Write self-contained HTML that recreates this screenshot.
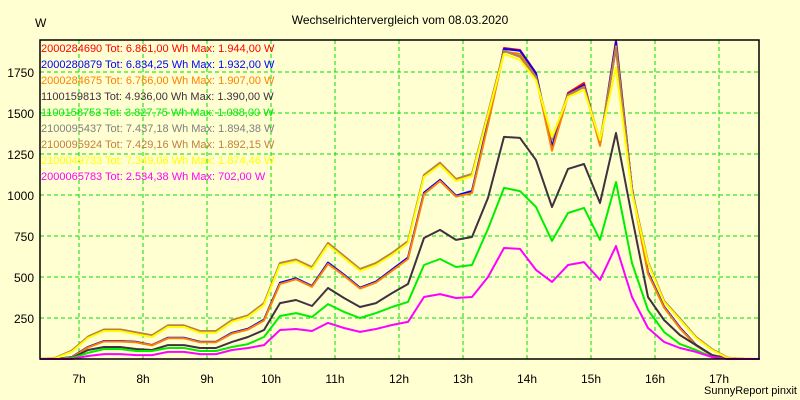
<!DOCTYPE html>
<html><head><meta charset="utf-8"><style>
body{margin:0;background:#ffffd2;}
svg{display:block;font-family:"Liberation Sans",sans-serif;}
</style></head><body>
<svg id="chart" width="800" height="400" viewBox="0 0 800 400">
<rect x="0" y="0" width="800" height="400" fill="#ffffd2"/>
<text x="400" y="24" font-size="12" text-anchor="middle">Wechselrichtervergleich vom 08.03.2020</text>
<text x="35" y="27" font-size="12">W</text>
<text x="797" y="394" font-size="11" text-anchor="end">SunnyReport pinxit</text>
<g id="grid"></g>
<g id="series"></g>
<g id="axes"></g>
<g id="legend"></g>
</svg>
<script>
const times = [6.39,6.64,6.89,7.14,7.39,7.64,7.89,8.14,8.39,8.64,8.89,9.14,9.39,9.64,9.89,10.14,10.39,10.64,10.89,11.14,11.39,11.64,11.89,12.14,12.39,12.64,12.89,13.14,13.39,13.64,13.89,14.14,14.39,14.64,14.89,15.14,15.39,15.64,15.89,16.14,16.39,16.64,16.89,17.14,17.39,17.64];
const seriesNames = ["2000284690","2000280879","2000284675","1100159813","1100158753","2100095437","2100095924","2100049733","2000065783"];
const seriesColors = ["#ff0000","#0000ff","#ff8000","#403040","#00ee00","#808080","#c08040","#ffff00","#ff00ff"];
const legendTexts = ["Tot: 6.861,00 Wh Max: 1.944,00 W","Tot: 6.834,25 Wh Max: 1.932,00 W","Tot: 6.766,00 Wh Max: 1.907,00 W","Tot: 4.936,00 Wh Max: 1.390,00 W","Tot: 3.827,75 Wh Max: 1.088,00 W","Tot: 7.437,18 Wh Max: 1.894,38 W","Tot: 7.429,16 Wh Max: 1.892,15 W","Tot: 7.349,06 Wh Max: 1.874,46 W","Tot: 2.534,38 Wh Max: 702,00 W"];
const sRed = [0,0,12,73,110,110,104,85,128,128,104,104,158,183,238,463,490,445,585,512,433,470,543,616,1012,1091,994,1018,1439,1896,1884,1744,1287,1622,1683,1305,1944,1040,524,317,189,85,24,3,0,0];
const sBlue = [0,0,12,73,110,110,104,85,130,130,104,104,160,185,240,465,492,445,588,514,435,472,545,618,1014,1092,996,1025,1445,1890,1880,1740,1295,1615,1670,1310,1932,1040,530,320,192,86,24,3,0,0];
const sOrange = [0,0,10,70,107,107,102,83,126,126,102,102,155,180,235,458,486,440,580,508,430,466,538,610,1005,1085,990,1012,1430,1875,1860,1720,1270,1605,1660,1300,1907,1030,520,314,186,83,22,3,0,0];
const sDark = [0,0,6,55,73,73,61,55,85,85,67,67,104,134,177,341,360,323,433,372,317,341,402,457,738,787,726,744,982,1354,1348,1213,927,1159,1189,951,1378,866,378,238,146,85,24,0,0,0];
const sGreen = [0,0,5,37,61,61,49,49,67,67,49,49,73,91,134,262,280,256,335,287,250,280,317,348,573,610,561,573,793,1043,1024,927,720,890,921,726,1079,585,299,165,91,55,12,0,0,0];
const sGray = [0,8,52,136,180,180,162,144,205,205,170,170,237,266,340,585,606,560,707,628,548,585,646,718,1122,1196,1097,1128,1498,1880,1845,1718,1340,1612,1660,1330,1894,1030,592,355,245,134,60,8,0,0];
const sBrown = [0,8,52,136,180,180,162,144,205,205,170,170,237,266,340,585,606,560,707,628,548,585,646,718,1122,1196,1097,1128,1498,1878,1842,1715,1338,1610,1658,1328,1892,1028,592,355,245,134,60,8,2,0];
const sYellow = [0,5,45,128,170,170,152,134,195,195,160,160,227,256,330,573,595,549,695,616,537,573,634,707,1110,1183,1085,1116,1488,1860,1823,1700,1354,1598,1640,1335,1780,1010,585,348,238,128,55,5,0,0];
const sMagenta = [0,0,0,18,30,30,24,24,43,43,30,30,55,67,85,177,183,171,220,189,165,183,207,226,378,396,372,378,500,677,671,543,470,573,591,482,689,378,189,104,67,43,12,0,0,0];
const yTicks = [250,500,750,1000,1250,1500,1750];
const xTicks = [7,8,9,10,11,12,13,14,15,16,17];
const xTickLabels = ["7h","8h","9h","10h","11h","12h","13h","14h","15h","16h","17h"];

const NS="http://www.w3.org/2000/svg";
const L=40,R=759,T=40,B=359,YMAX=1945;
function xs(h){return 15+64*(h-6);}
function ys(v){return B-(v/YMAX)*(B-T);}
function mk(tag,attrs,parent){const e=document.createElementNS(NS,tag);for(const k in attrs)e.setAttribute(k,attrs[k]);parent.appendChild(e);return e;}
const grid=document.getElementById('grid'),axes=document.getElementById('axes'),ser=document.getElementById('series'),leg=document.getElementById('legend');
yTicks.forEach(v=>{
  const g=mk('line',{x1:L,x2:R,y1:ys(v),y2:ys(v),stroke:'#00dd00','stroke-dasharray':'4,3','stroke-width':1},grid);
  
  
  const t=mk('text',{x:34,y:ys(v)+5,'font-size':12,'text-anchor':'end'},axes);
  t.textContent=v;
  
  
});
xTicks.forEach((h,i)=>{
  const g=mk('line',{x1:xs(h),x2:xs(h),y1:T,y2:B,stroke:'#00dd00','stroke-dasharray':'4,3','stroke-width':1},grid);
  
  
  const t=mk('text',{x:xs(h),y:383,'font-size':12,'text-anchor':'middle'},axes);
  t.textContent=xTickLabels[i];
  
  
});
const frame=mk('rect',{x:L,y:T,width:R-L,height:B-T,fill:'none',stroke:'#000','stroke-width':1.5},axes);


const all=[sRed,sBlue,sOrange,sDark,sGreen,sGray,sBrown,sYellow,sMagenta];
all.forEach((s,k)=>{
  const pts=s.map((v,i)=>xs(times[i]).toFixed(1)+','+ys(v).toFixed(1)).join(' ');
  const p=mk('polyline',{points:pts,fill:'none',stroke:seriesColors[k],'stroke-width':2,'stroke-linejoin':'round'},ser);
  
  
});
seriesNames.forEach((n,k)=>{
  const t=mk('text',{x:41,y:52+16*k,'font-size':11,fill:seriesColors[k]},leg);
  t.textContent=n+' '+legendTexts[k];
  
  
});
</script>
</body></html>
